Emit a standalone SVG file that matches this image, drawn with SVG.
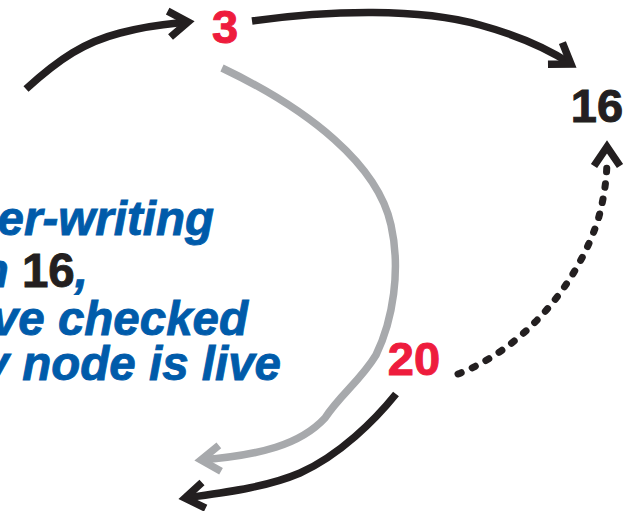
<svg xmlns="http://www.w3.org/2000/svg" width="638" height="511" viewBox="0 0 638 511">
  <style>
    .num { font-family: "Liberation Sans", Arial, sans-serif; font-weight: bold; font-size: 47px; text-anchor: middle; stroke-width: 1; }
    .red { fill: #ee1c3d; stroke: #ee1c3d; }
    .dark { fill: #231f20; stroke: #231f20; }
    .note { font-family: "Liberation Sans", Arial, sans-serif; font-weight: bold; font-style: italic; font-size: 47.5px; fill: #005baa; stroke: #005baa; stroke-width: 0.9; text-anchor: end; }
    .note .k { fill: #231f20; stroke: #231f20; font-style: normal; }
    .edge { fill: none; stroke-width: 7.5; stroke-linecap: butt; }
    .blk { stroke: #231f20; }
    .gry { stroke: #a7a9ac; }
    .dots { stroke-dasharray: 3.5 12; stroke-linecap: round; stroke-width: 7; }
  </style>
  <defs>
    <marker id="headBlack" markerUnits="userSpaceOnUse" orient="auto" markerWidth="40" markerHeight="40" refX="0" refY="0" viewBox="-30 -20 40 40" overflow="visible">
      <path d="M-19,-13 L0,0 L-19,13" fill="none" stroke="#231f20" stroke-width="7.5" stroke-linejoin="miter" stroke-miterlimit="10"/>
    </marker>
    <marker id="headGray" markerUnits="userSpaceOnUse" orient="auto" markerWidth="40" markerHeight="40" refX="0" refY="0" viewBox="-30 -20 40 40" overflow="visible">
      <path d="M-19,-13 L0,0 L-19,13" fill="none" stroke="#a7a9ac" stroke-width="7.5" stroke-linejoin="miter" stroke-miterlimit="10"/>
    </marker>
  </defs>

  <g id="connectors">
    <path class="edge blk" d="M26,89 C60,58 85,42 120,33 S170,24 188,22" marker-end="url(#headBlack)"/>
    <path class="edge blk" d="M252,21 C330,10 420,8 480,25 C520,36 550,50 571,64" marker-end="url(#headBlack)"/>
    <path class="edge gry" d="M222,68 C310,110 378,165 391,225 C401,270 393,320 376,355 C361,380 340,395 325,418 C300,445 260,455 201,460" marker-end="url(#headGray)"/>
    <path class="edge blk" d="M396,394 C375,420 340,455 300,473 C265,488 220,493 185,498" marker-end="url(#headBlack)"/>
    <path class="edge blk dots" d="M458,374 C520,350 575,290 598,220 C605,195 607,175 607,158"/>
    <path class="edge blk" d="M607,152 L607,147" marker-end="url(#headBlack)"/>
  </g>

  <g id="node-3"><text class="num red" x="225" y="43">3</text></g>
  <g id="node-16"><text class="num dark" x="597" y="122">16</text></g>
  <g id="node-20"><text class="num red" x="414" y="375">20</text></g>

  <g id="note">
    <text class="note" x="214" y="235">er-writing</text>
    <text class="note" x="88" y="287">n <tspan class="k">16</tspan>,</text>
    <text class="note" x="248" y="335">ve checked</text>
    <text class="note" x="281" y="380">y node is live</text>
  </g>
</svg>
